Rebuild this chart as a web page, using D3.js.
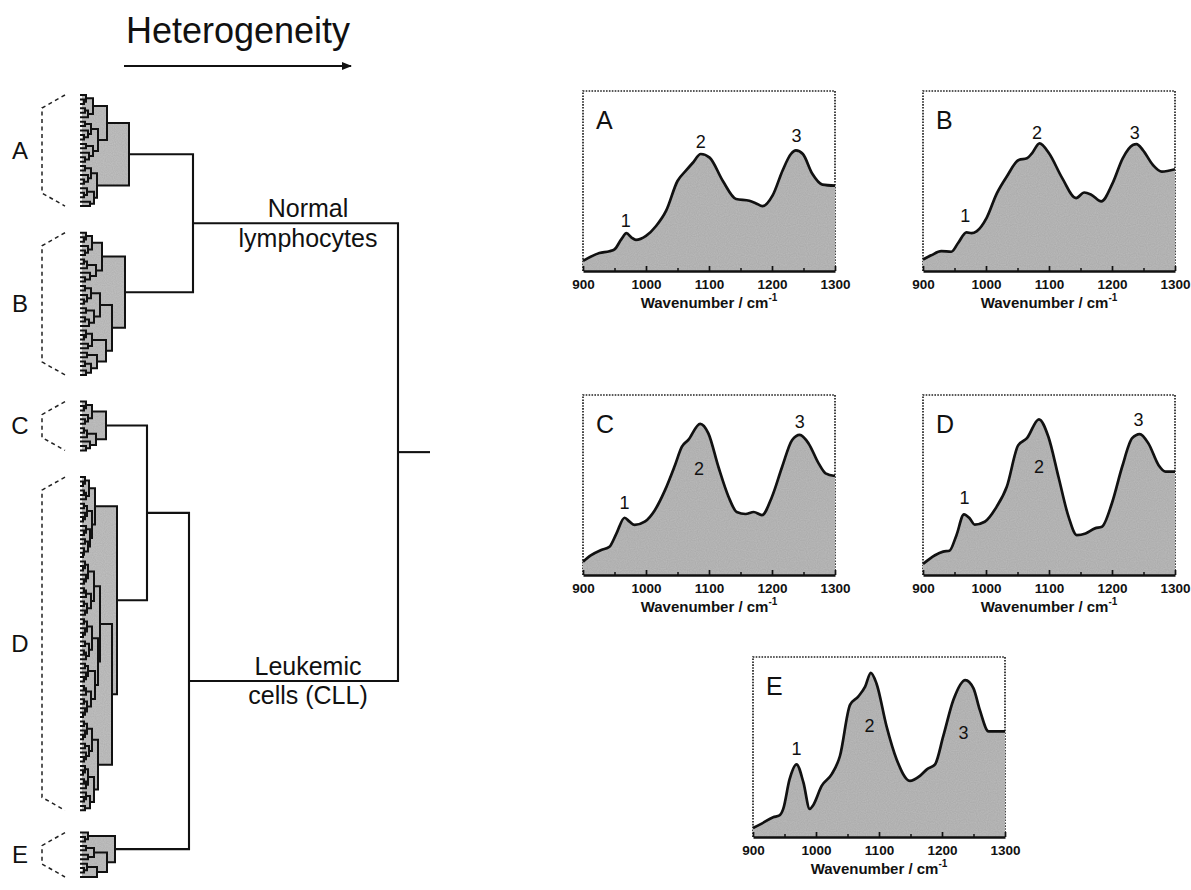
<!DOCTYPE html>
<html>
<head>
<meta charset="utf-8">
<script src="https://cdn.jsdelivr.net/npm/d3@7"></script>
<style>
  body { margin: 0; background: #fff; }
  svg text { font-family: "Liberation Sans", Arial, sans-serif; fill: #111; }
</style>
</head>
<body>
<svg id="fig" width="1191" height="890"></svg>
<script>
// ---- spectra: [wavenumber, relative absorbance] ----
const specA = [[900,.056],[926,.10],[942,.11],[950,.12],[961,.177],[969,.21],[977,.186],[984,.173],[1000,.195],[1016,.25],[1032,.335],[1050,.50],[1064,.56],[1074,.60],[1087,.65],[1101,.63],[1122,.50],[1143,.40],[1164,.39],[1174,.377],[1185,.36],[1201,.42],[1217,.56],[1230,.65],[1238,.67],[1249,.65],[1264,.54],[1280,.48],[1300,.474]];
const specB = [[900,.064],[913,.087],[929,.11],[945,.107],[956,.157],[969,.215],[977,.21],[985,.22],[1001,.295],[1017,.43],[1033,.525],[1052,.617],[1065,.626],[1073,.654],[1085,.709],[1100,.654],[1121,.516],[1143,.405],[1156,.436],[1167,.424],[1183,.387],[1201,.488],[1217,.626],[1233,.70],[1239,.705],[1249,.672],[1265,.589],[1279,.552],[1300,.565]];
const specC = [[900,.074],[913,.11],[929,.139],[942,.157],[953,.23],[966,.318],[974,.296],[982,.278],[998,.296],[1014,.36],[1030,.47],[1046,.61],[1057,.713],[1067,.75],[1086,.84],[1099,.787],[1115,.60],[1131,.435],[1144,.35],[1158,.339],[1171,.35],[1184,.333],[1200,.435],[1216,.60],[1232,.75],[1244,.778],[1258,.731],[1274,.62],[1285,.565],[1300,.55]];
const specD = [[900,.061],[919,.11],[932,.13],[942,.135],[953,.22],[965,.337],[974,.315],[982,.28],[998,.296],[1017,.38],[1033,.49],[1051,.72],[1065,.76],[1084,.865],[1099,.768],[1115,.546],[1131,.324],[1144,.222],[1158,.231],[1173,.259],[1184,.268],[1200,.40],[1216,.60],[1232,.76],[1244,.783],[1258,.73],[1274,.61],[1285,.574],[1300,.574]];
const specE = [[900,.05],[913,.073],[932,.11],[942,.12],[948,.156],[958,.32],[969,.404],[980,.303],[990,.156],[995,.174],[1009,.284],[1025,.349],[1038,.45],[1054,.734],[1067,.78],[1078,.835],[1087,.912],[1096,.853],[1112,.615],[1128,.431],[1149,.312],[1165,.34],[1176,.376],[1189,.404],[1202,.56],[1218,.761],[1237,.872],[1250,.826],[1260,.706],[1274,.587],[1287,.587],[1300,.587]];

// peak label positions (1, 2, 3)
const peaksA = [[968,.28],[1087,.72],[1239,.75]];
const peaksB = [[967,.31],[1081,.77],[1236,.77]];
const peaksC = [[966,.40],[1084,.59],[1244,.85]];
const peaksD = [[966,.43],[1084,.60],[1242,.865]];
const peaksE = [[969,.49],[1085,.62],[1234,.58]];

const majorTicks = [900, 1000, 1100, 1200, 1300];
const minorTicks = [950, 1050, 1150, 1250];

// ---- dendrogram: [height, left, right], leaf = 0 ----
const clusterA = [47,[25,[11,[4,0,[2,0,0]],[6,[3,0,0],0]],[16,[9,[3,0,0],[6,0,[2,0,0]]],[11,[4,0,0],[7,0,[3,0,0]]]]],[15,[9,[3,0,0],[6,0,[2,0,0]]],[12,[5,0,[2,0,0]],[8,0,0]]]];
const clusterB = [43,[20,[10,[4,0,[2,0,0]],[6,0,[3,0,0]]],[14,[5,[2,0,0],0],[8,0,[3,0,0]]]],[30,[18,[9,[3,0,0],[5,0,[2,0,0]]],[12,[4,0,0],[7,[3,0,0],0]]],[24,[10,[4,0,[2,0,0]],[6,0,0]],[15,[5,0,0],[9,[3,0,0],[4,0,0]]]]]];
const clusterC = [24,[10,[4,0,[2,0,0]],[6,0,[3,0,0]]],[14,[5,[2,0,0],0],[8,0,[4,0,0]]]];
const clusterD = [35,
  [13,[7,[3,0,[1,0,0]],[4,[2,0,0],0]],[10,[5,[2,0,0],[3,0,[1,0,0]]],[8,[4,0,[2,0,0]],[6,[3,0,0],[2,0,[1,0,0]]]]]],
  [30,
    [18,[12,[6,[3,0,[1,0,0]],[4,0,[2,0,0]]],[9,[4,[2,0,0],0],[5,[2,0,0],[3,0,0]]]],[16,[10,[5,[2,0,0],[3,0,[1,0,0]]],[7,[3,0,0],[4,[2,0,0],0]]],[13,[6,[3,0,0],[4,0,[2,0,0]]],[9,[4,[2,0,0],0],[5,[2,0,0],[3,0,[1,0,0]]]]]]],
    [16,[10,[5,[2,0,0],[3,0,[1,0,0]]],[7,[3,0,0],[4,0,[2,0,0]]]],[12,[6,[3,0,[1,0,0]],[4,[2,0,0],0]],[8,[4,0,[2,0,0]],[3,0,0]]]]]];
const clusterE = [33,[6,0,[3,0,0]],[25,[12,[4,0,0],[6,0,0]],[15,[5,0,[2,0,0]],0]]];

const clusterNames = ["A", "B", "C", "D", "E"];
const clusterGaps = [6, 6, 6, 5];           // empty leaf slots between clusters
const joins = [316, [111, "A", "B"], [107, [65, "C", "D"], "E"]];
const groupLabels = [["Normal", "lymphocytes"], ["Leukemic", "cells (CLL)"]];

// ---- layout ----
const svg = d3.select("#fig");
const defs = svg.append("defs");
const noise = defs.append("filter").attr("id", "grain").attr("x", 0).attr("y", 0).attr("width", 1).attr("height", 1);
noise.append("feTurbulence").attr("type", "fractalNoise").attr("baseFrequency", 0.9).attr("numOctaves", 1).attr("seed", 3).attr("result", "n");
noise.append("feColorMatrix").attr("in", "n").attr("type", "matrix")
  .attr("values", "0 0 0 0 0  0 0 0 0 0  0 0 0 0 0  0 0 0 0.22 0").attr("result", "na");
noise.append("feComposite").attr("in", "na").attr("in2", "SourceGraphic").attr("operator", "in").attr("result", "nc");
noise.append("feMerge").selectAll("feMergeNode").data(["SourceGraphic", "nc"]).join("feMergeNode").attr("in", d => d);

// title + arrow
defs.append("marker").attr("id", "arrow").attr("viewBox", "0 0 10 10").attr("refX", 9).attr("refY", 5)
  .attr("markerWidth", 10).attr("markerHeight", 10).attr("markerUnits", "userSpaceOnUse").attr("orient", "auto")
  .append("path").attr("d", "M0,1 L10,5 L0,9 Z").attr("fill", "#111");
svg.append("text").attr("x", 238).attr("y", 43).attr("text-anchor", "middle").attr("font-size", 36).text("Heterogeneity");
svg.append("line").attr("x1", 124).attr("x2", 351).attr("y1", 66).attr("y2", 66)
  .attr("stroke", "#111").attr("stroke-width", 1.8).attr("marker-end", "url(#arrow)");

// ---- dendrogram ----
const clusters = { A: clusterA, B: clusterB, C: clusterC, D: clusterD, E: clusterE };
const expand = d => typeof d === "string" ? clusters[d] : (Array.isArray(d) ? [d[0], ...d.slice(1).map(expand)] : d);
const fullTree = expand(joins);
const clusterByData = new Map(clusterNames.map(k => [clusters[k], k]));

const root = d3.hierarchy(fullTree, d => Array.isArray(d) ? d.slice(1) : null);
root.each(n => {
  const a = n.ancestors().find(p => clusterByData.has(p.data));
  n.cluster = a ? clusterByData.get(a.data) : null;
});

let slot = -1, prev = null;
root.leaves().forEach(leaf => {
  if (prev === null) slot = 0;
  else if (leaf.cluster !== prev) slot += clusterGaps[clusterNames.indexOf(prev)];
  else slot += 1;
  leaf.slot = slot;
  prev = leaf.cluster;
});

const xH = d3.scaleLinear().domain([0, 316]).range([82, 398]);
const yS = d3.scaleLinear().domain([0, slot]).range([95, 877]);

root.eachAfter(n => {
  if (n.children) {
    n.x = xH(n.data[0]);
    n.y = d3.mean(n.children, c => c.y);
  } else {
    n.x = xH(0);
    n.y = yS(n.slot);
  }
});

const internal = root.descendants().filter(n => n.children);
const dendro = svg.append("g");

dendro.append("g").attr("filter", "url(#grain)")
  .selectAll("rect").data(internal.filter(n => n.cluster)).join("rect")
  .attr("x", xH(0)).attr("width", n => n.x - xH(0))
  .attr("y", n => n.children[0].y).attr("height", n => n.children[1].y - n.children[0].y)
  .attr("fill", "#c2c2c2");

dendro.append("g").attr("fill", "none").attr("stroke", "#111").attr("stroke-linejoin", "miter")
  .selectAll("path").data(internal).join("path")
  .attr("stroke-width", n => n.cluster ? 2 : 2.1)
  .attr("d", n => {
    const [a, b] = n.children;
    return `M${a.x - (a.children ? 0 : 2)},${a.y}H${n.x}V${b.y}H${b.x - (b.children ? 0 : 2)}`;
  });

dendro.append("path").attr("stroke", "#111").attr("stroke-width", 2.1)
  .attr("d", `M${root.x},${root.y}H430`);

// cluster brackets + letters
const spans = clusterNames.map(k => {
  const ls = root.leaves().filter(l => l.cluster === k);
  return { k, top: ls[0].y, bot: ls[ls.length - 1].y };
});
const br = svg.append("g");
br.selectAll("path").data(spans).join("path")
  .attr("fill", "none").attr("stroke", "#222").attr("stroke-width", 1.5).attr("stroke-dasharray", "4,3.5")
  .attr("d", s => `M65,${s.top}L42,${s.top + 13}V${s.bot - 13}L65,${s.bot}`);
br.selectAll("text").data(spans).join("text")
  .attr("x", 20).attr("y", s => (s.top + s.bot) / 2).attr("dy", "0.35em")
  .attr("text-anchor", "middle").attr("font-size", 24).text(s => s.k);

// group labels near the two main branches
const mains = root.children;
svg.selectAll("text.grp").data(mains).join("text").attr("class", "grp")
  .attr("x", 308).attr("text-anchor", "middle").attr("font-size", 25)
  .attr("y", n => n.y - 6)
  .each(function (n, i) {
    d3.select(this).append("tspan").attr("x", 308).text(groupLabels[i][0]);
    d3.select(this).append("tspan").attr("x", 308).attr("dy", "1.18em").text(groupLabels[i][1]);
  });

// ---- spectra panels ----
const panels = [
  { id: "A", data: specA, peaks: peaksA },
  { id: "B", data: specB, peaks: peaksB },
  { id: "C", data: specC, peaks: peaksC },
  { id: "D", data: specD, peaks: peaksD },
  { id: "E", data: specE, peaks: peaksE }
];
const panelPos = { A: [583, 91], B: [923, 91], C: [583, 395], D: [923, 395], E: [753, 657] };
const pw = 252, ph = 180;

const x = d3.scaleLinear().domain([900, 1300]).range([0, pw]);
const y = d3.scaleLinear().domain([0, 1]).range([ph, 0]);
const area = d3.area().x(d => x(d[0])).y0(ph).y1(d => y(d[1])).curve(d3.curveMonotoneX);
const line = d3.line().x(d => x(d[0])).y(d => y(d[1])).curve(d3.curveMonotoneX);

panels.forEach(p => {
  const g = svg.append("g").attr("transform", `translate(${panelPos[p.id][0]},${panelPos[p.id][1]})`);

  g.append("path").attr("d", `M0,${ph}V0H${pw}V${ph}`).attr("fill", "none")
    .attr("stroke", "#222").attr("stroke-width", 1.7).attr("stroke-dasharray", "1.6,1.3");

  g.append("path").datum(p.data).attr("d", area).attr("fill", "#bcbcbc").attr("filter", "url(#grain)");
  g.append("path").datum(p.data).attr("d", line).attr("fill", "none")
    .attr("stroke", "#111").attr("stroke-width", 2.7).attr("stroke-linejoin", "round");

  const ax = g.append("g").attr("transform", `translate(0,${ph})`)
    .call(d3.axisBottom(x).tickValues(majorTicks).tickSizeInner(-5).tickSizeOuter(0).tickPadding(8).tickFormat(d3.format("d")));
  ax.select(".domain").attr("stroke", "#111").attr("stroke-width", 2.4);
  ax.selectAll(".tick line").attr("stroke", "#111").attr("stroke-width", 1.7);
  ax.selectAll(".tick text").attr("font-size", 13.5).attr("font-weight", "bold")
    .attr("font-family", "'Liberation Sans', Arial, sans-serif").attr("fill", "#111");

  const mx = g.append("g").attr("transform", `translate(0,${ph})`)
    .call(d3.axisBottom(x).tickValues(minorTicks).tickSizeInner(-3).tickSizeOuter(0).tickFormat(""));
  mx.select(".domain").remove();
  mx.selectAll(".tick line").attr("stroke", "#111").attr("stroke-width", 1.5);

  const lab = g.append("text").attr("x", pw / 2).attr("y", ph + 37).attr("text-anchor", "middle")
    .attr("font-size", 15).attr("font-weight", "bold");
  lab.append("tspan").text("Wavenumber / cm");
  lab.append("tspan").attr("dy", -7).attr("font-size", 10).text("-1");

  g.append("text").attr("x", 13).attr("y", 38).attr("font-size", 25).text(p.id);

  g.selectAll("text.pk").data(p.peaks).join("text").attr("class", "pk")
    .attr("x", d => x(d[0])).attr("y", d => y(d[1])).attr("dy", "0.36em")
    .attr("text-anchor", "middle").attr("font-size", 18).text((d, i) => i + 1);
});
</script>
</body>
</html>
